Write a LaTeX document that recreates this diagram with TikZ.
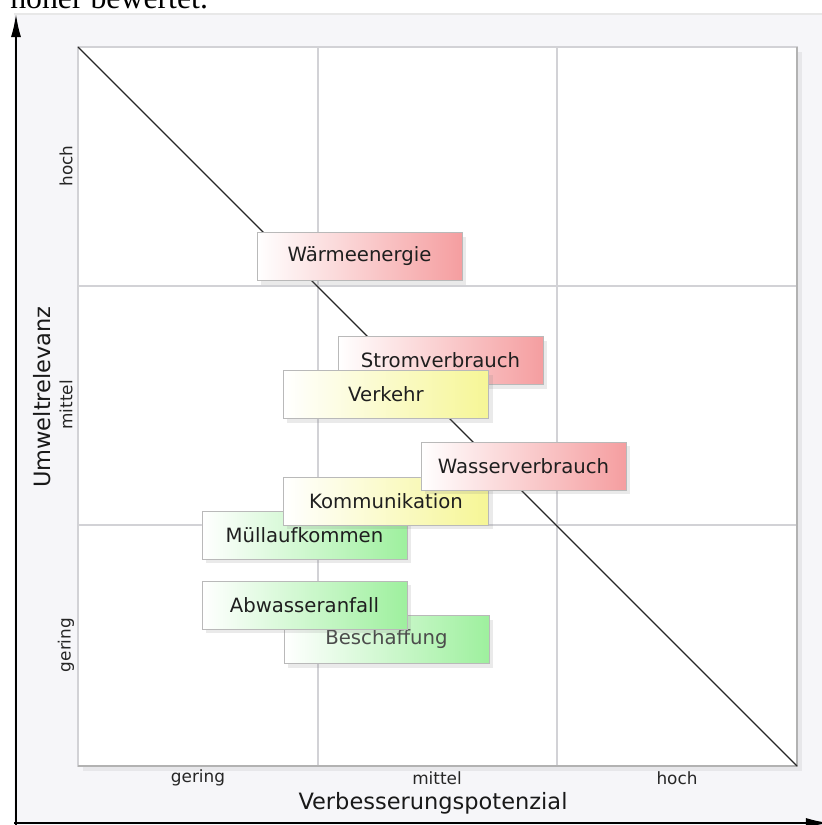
\documentclass[tikz,border=0pt]{standalone}
\usepackage{fontspec}
\setmainfont{DejaVu Sans}
\newfontfamily\capfont{Liberation Serif}
\usepackage{tikz}
\usetikzlibrary{arrows.meta,shadows}
\definecolor{redhi}{RGB}{245,158,160}
\definecolor{yelhi}{RGB}{246,246,150}
\definecolor{grnhi}{RGB}{158,240,158}
\definecolor{gridgray}{RGB}{210,210,214}
\definecolor{panelgray}{RGB}{246,246,249}
\tikzset{
  box/.style={draw=gray!55, line width=0.6pt, minimum width=5.125cm, minimum height=1.2cm,
    inner sep=0pt, text=black!88, font=\fontsize{14}{16}\selectfont, left color=white,
    drop shadow={opacity=0.16, shadow xshift=0.1cm, shadow yshift=-0.1cm}},
  redbox/.style={box, right color=redhi},
  yelbox/.style={box, right color=yelhi},
  grnbox/.style={box, right color=grnhi},
  gridline/.style={gridgray, line width=1.2pt},
  axis/.style={line width=1.8pt, -{Latex[length=0.6cm,width=0.25cm]}},
  cat/.style={font=\fontsize{12}{14}\selectfont, text=black!85, inner sep=0pt},
  title/.style={font=\fontsize{16}{18}\selectfont, text=black!90, inner sep=0pt}
}
\def\RB#1#2#3{\node[redbox] (#1) at (#2) {#3};}
\def\YB#1#2#3{\node[yelbox] (#1) at (#2) {#3};}
\def\GB#1#2#3{\node[grnbox] (#1) at (#2) {#3};}

\begin{document}
\begin{tikzpicture}[x=0.025cm, y=-0.025cm]
\useasboundingbox (0,0) rectangle (822,825);
\clip (0,0) rectangle (822,825);
% panel and plot area
\fill[panelgray] (14,14) rectangle (822,825);
\draw[gray!18, line width=0.8pt] (14,14) -- (822,14);
\node[anchor=base west, inner sep=0pt, font={\capfont\fontsize{22.6}{24}\selectfont}] (cap) at (10,8) {höher bewertet.};
\fill[white, drop shadow={opacity=0.12, shadow xshift=0.12cm, shadow yshift=-0.12cm}] (78,47) rectangle (797,766);
\coordinate (tl) at (78,47);
\coordinate (br) at (797,766);
\foreach \g in {318,557} \draw[gridline] (\g,47) -- (\g,766);
\foreach \g in {286,525} \draw[gridline] (78,\g) -- (797,\g);
\draw[gridline] (tl) rectangle (br);
\draw[gray!60, line width=1.2pt] (797,47) -- (797,766) -- (78,766);
\draw[black!85, line width=0.9pt] (tl) -- (br);
% axes
\coordinate (yfoot) at (16,825);
\coordinate (ytop) at (16,13);
\coordinate (xfoot) at (14,823);
\coordinate (xtip) at (830,823);
\draw[axis] (yfoot) -- (ytop);
\draw[axis] (xfoot) -- (xtip);
% axis texts
\node[cat] (xg) at (198,778) {gering};
\node[cat] (xm) at (437,778) {mittel};
\node[cat] (xh) at (677,778) {hoch};
\node[title] (xt) at (433,803) {Verbesserungspotenzial};
\node[cat, rotate=90] (yh) at (66,166) {hoch};
\node[cat, rotate=90] (ym) at (66,405) {mittel};
\node[cat, rotate=90] (yg) at (66,645) {gering};
\node[title, rotate=90] (yt) at (42,397) {Umweltrelevanz};
% aspects
\RB{waerme}{359.5,256.5}{Wärmeenergie}
\RB{strom}{440.5,360.5}{Stromverbrauch}
\YB{verkehr}{386,394.5}{Verkehr}
\GB{muell}{304.5,535}{Müllaufkommen}
\YB{komm}{386,501}{Kommunikation}
\RB{wasser}{523.5,466}{Wasserverbrauch}
\GB{beschaff}{386.5,639.5}{\textcolor{black!70}{Beschaffung}}
\GB{abwasser}{304.5,605}{Abwasseranfall}
\end{tikzpicture}
\end{document}
